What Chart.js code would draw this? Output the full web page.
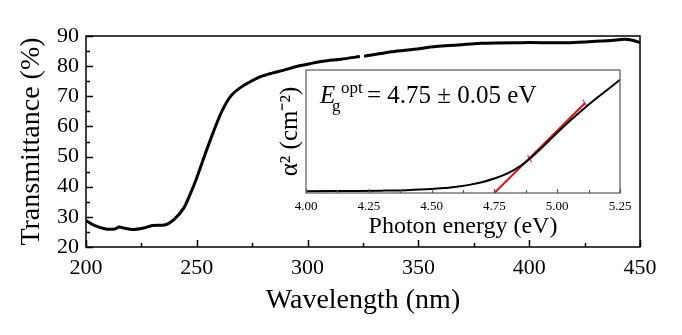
<!DOCTYPE html>
<html>
<head>
<meta charset="utf-8">
<script src="https://cdn.jsdelivr.net/npm/chart.js@4.4.0/dist/chart.umd.min.js"></script>
<style>
  html, body { margin: 0; padding: 0; background: #fff; }
  #wrap { position: relative; width: 682px; height: 335px; }
  #main { position: absolute; left: 0; top: 0; }
  #inset { position: absolute; left: 270px; top: 60px; }
</style>
</head>
<body>
<div id="wrap">
  <canvas id="main" width="682" height="335"></canvas>
  <canvas id="inset" width="370" height="190"></canvas>
</div>
<script>
// main spectrum, null = small gap in the trace
const wavelength = [200, 204, 209, 213, 215, 217, 221, 226, 230, 236, 240, 244, 247, 250, 253.5, 257.5, 261.5, 265.5, 269.5, 274.5, 279, 284, 289, 295, 301, 307, 315, 323.6, 324.5, 325.5, 329, 338, 348, 358, 368, 378, 397, 417, 427, 437, 443, 447, 450];
const transmittance = [28.8, 27.1, 26.0, 26.0, 26.6, 26.3, 25.8, 26.3, 27.1, 27.4, 29.3, 32.8, 37.5, 43.0, 50.3, 58.2, 65.3, 70.2, 72.8, 75.0, 76.6, 77.7, 78.6, 79.9, 80.8, 81.6, 82.3, 83.2, null, 83.3, 83.7, 84.8, 85.6, 86.5, 87.0, 87.6, 87.8, 87.8, 88.1, 88.5, 88.9, 88.5, 87.8];

// inset: Tauc plot
const photonEnergy = [4.00, 4.10, 4.20, 4.30, 4.40, 4.50, 4.55, 4.60, 4.65, 4.70, 4.75, 4.80, 4.85, 4.90, 4.95, 5.00, 5.05, 5.10, 5.15, 5.20, 5.25];
const alphaSq = [0.015, 0.016, 0.017, 0.019, 0.023, 0.032, 0.04, 0.05, 0.066, 0.088, 0.118, 0.158, 0.215, 0.295, 0.39, 0.49, 0.585, 0.675, 0.76, 0.84, 0.92];
const fitEnergy = [4.75, 5.11];
const fitAlpha = [0, 0.73];
const fitMarkEnergy = [4.89, 5.11];
const fitMarkAlpha = [0.28, 0.73];

const serif = '"Liberation Serif", "Times New Roman", serif';
Chart.defaults.color = '#000';
Chart.defaults.font.family = serif;

function pairs(xs, ys) {
  return xs.map((x, i) => ({ x: x, y: ys[i] }));
}

// box round the plot area + inward tick marks
const frame = {
  id: 'frame',
  beforeDraw(chart, args, o) {
    if (!o.fill) return;
    const a = chart.chartArea;
    chart.ctx.save();
    chart.ctx.fillStyle = o.fill;
    chart.ctx.fillRect(a.left, a.top, a.right - a.left, a.bottom - a.top);
    chart.ctx.restore();
  },
  afterDraw(chart, args, o) {
    const { ctx, chartArea: a, scales } = chart;
    ctx.save();
    ctx.strokeStyle = o.color;
    ctx.lineWidth = o.width;
    ctx.strokeRect(a.left, a.top, a.right - a.left, a.bottom - a.top);
    ctx.beginPath();
    const xs = scales.x;
    for (let v = xs.min; v <= xs.max + 1e-9; v += o.xMinor) {
      const px = Math.round(xs.getPixelForValue(v)) + 0.5;
      const major = Math.abs(Math.round(v / o.xMajor) * o.xMajor - v) < 1e-6;
      ctx.moveTo(px, a.bottom);
      ctx.lineTo(px, a.bottom - (major ? o.major : o.minor));
    }
    if (o.yMinor) {
      const ys = scales.y;
      for (let v = ys.min; v <= ys.max + 1e-9; v += o.yMinor) {
        const py = Math.round(ys.getPixelForValue(v)) + 0.5;
        const major = Math.abs(Math.round(v / o.yMajor) * o.yMajor - v) < 1e-6;
        ctx.moveTo(a.left, py);
        ctx.lineTo(a.left + (major ? o.major : o.minor), py);
      }
    }
    ctx.stroke();
    ctx.restore();
  }
};

// E_g^opt label inside the inset
const bandGapLabel = {
  id: 'bandGapLabel',
  afterDraw(chart) {
    const ctx = chart.ctx;
    ctx.save();
    ctx.fillStyle = '#000';
    ctx.textBaseline = 'alphabetic';
    ctx.font = 'italic 25px ' + serif;
    ctx.fillText('E', 50, 43);
    ctx.font = '17px ' + serif;
    ctx.fillText('g', 62, 51);
    ctx.fillText('opt', 71, 33);
    ctx.font = '25px ' + serif;
    ctx.fillText('= 4.75 \u00b1 0.05 eV', 97, 43);
    ctx.restore();
  }
};

new Chart(document.getElementById('main'), {
  type: 'line',
  data: {
    datasets: [{
      data: pairs(wavelength, transmittance),
      borderColor: '#000',
      borderWidth: 3,
      pointRadius: 0,
      tension: 0.3,
      spanGaps: false
    }]
  },
  options: {
    responsive: false,
    animation: false,
    layout: { padding: { left: 0, top: 36, right: 42, bottom: 0 } },
    plugins: {
      legend: { display: false },
      tooltip: { enabled: false },
      frame: { color: '#000', width: 1.5, xMajor: 50, xMinor: 25, yMajor: 10, yMinor: 5, major: 7, minor: 4 }
    },
    scales: {
      x: {
        type: 'linear',
        min: 200,
        max: 450,
        grid: { display: false, drawTicks: false },
        border: { display: false },
        ticks: { stepSize: 50, padding: 8, font: { size: 22 } },
        title: { display: true, text: 'Wavelength (nm)', font: { size: 28 }, padding: { top: 0, bottom: 18 } },
        afterFit(s) { s.height = 88; }
      },
      y: {
        min: 20,
        max: 90,
        grid: { display: false, drawTicks: false },
        border: { display: false },
        ticks: { stepSize: 10, padding: 7, font: { size: 22 } },
        title: { display: true, text: 'Transmittance (%)', font: { size: 28 }, padding: { top: 15, bottom: 0 } },
        afterFit(s) { s.width = 86; }
      }
    }
  },
  plugins: [frame]
});

new Chart(document.getElementById('inset'), {
  type: 'line',
  data: {
    datasets: [{
      data: pairs(photonEnergy, alphaSq),
      borderColor: '#000',
      borderWidth: 2,
      pointRadius: 0,
      cubicInterpolationMode: 'monotone'
    }, {
      data: pairs(fitEnergy, fitAlpha),
      borderColor: '#e01010',
      borderWidth: 2,
      pointRadius: 0
    }, {
      data: pairs(fitMarkEnergy, fitMarkAlpha),
      showLine: false,
      pointStyle: 'line',
      rotation: 60,
      pointRadius: 4,
      pointBorderWidth: 1.5,
      pointBorderColor: '#e040e0'
    }]
  },
  options: {
    responsive: false,
    animation: false,
    layout: { padding: { left: 0, top: 10, right: 20, bottom: 0 } },
    plugins: {
      legend: { display: false },
      tooltip: { enabled: false },
      frame: { fill: '#fff', color: '#555', width: 1.2, xMajor: 0.25, xMinor: 0.125, major: 4, minor: 3 }
    },
    scales: {
      x: {
        type: 'linear',
        min: 4.0,
        max: 5.25,
        grid: { display: false, drawTicks: false },
        border: { display: false },
        ticks: { stepSize: 0.25, padding: 6, font: { size: 13 }, callback: v => v.toFixed(2) },
        title: { display: true, text: 'Photon energy (eV)', font: { size: 24 }, padding: { top: 0, bottom: 9 } },
        afterFit(s) { s.height = 57; }
      },
      y: {
        min: 0,
        max: 1,
        grid: { display: false, drawTicks: false },
        border: { display: false },
        ticks: { display: false },
        title: { display: true, text: '\u03b1\u00b2 (cm\u207b\u00b2)', font: { size: 25 }, padding: { top: 5, bottom: 0 } },
        afterFit(s) { s.width = 36; }
      }
    }
  },
  plugins: [frame, bandGapLabel]
});
</script>
</body>
</html>
